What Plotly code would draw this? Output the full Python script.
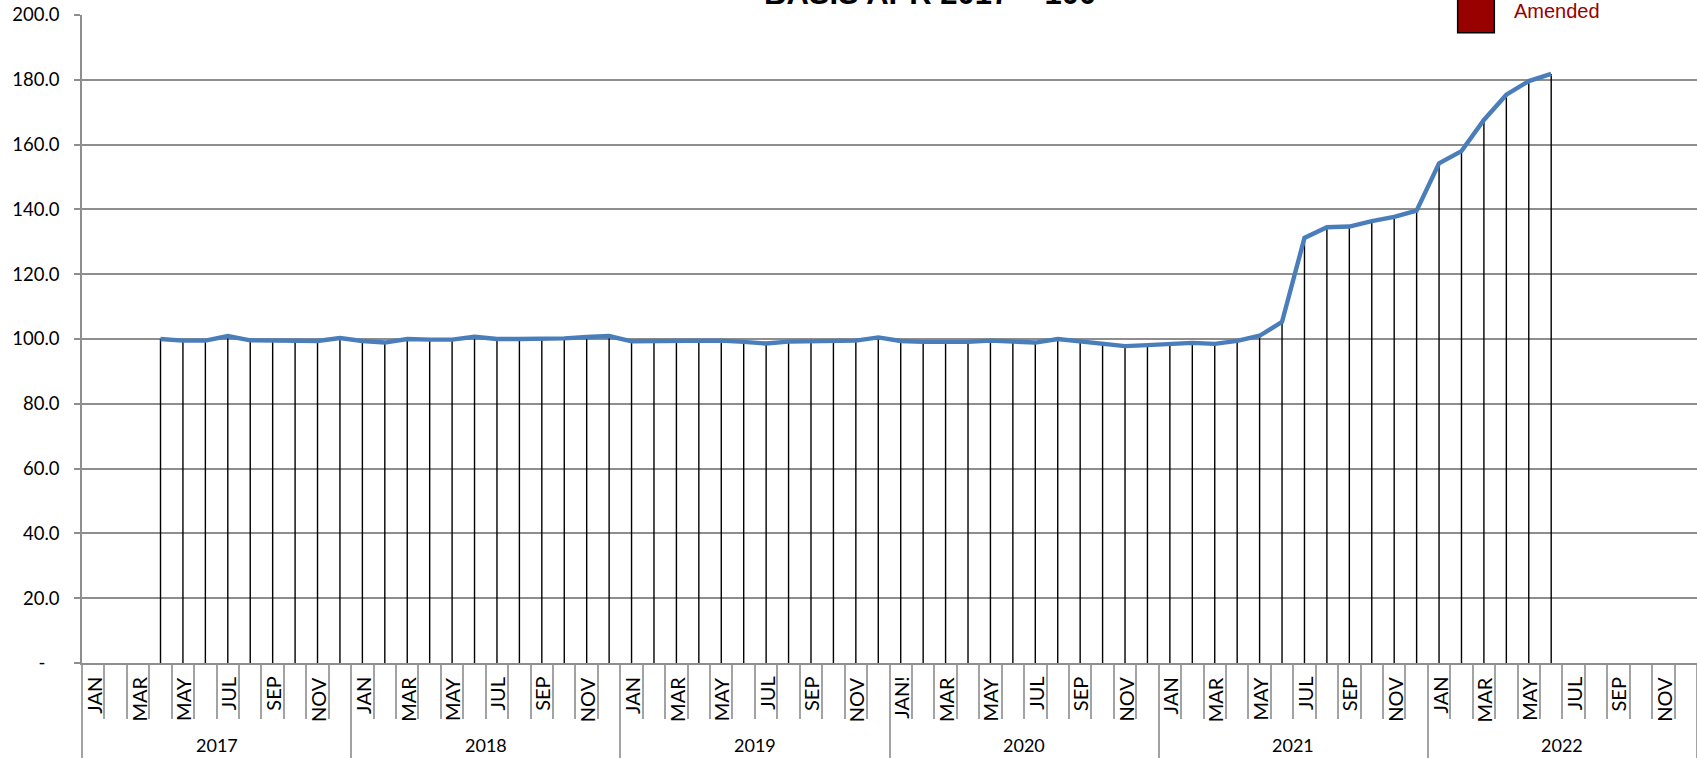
import plotly.graph_objects as go

# ---------------- data ----------------
years = [2017, 2018, 2019, 2020, 2021, 2022]
month_names = ["JAN", "FEB", "MAR", "APR", "MAY", "JUN",
               "JUL", "AUG", "SEP", "OCT", "NOV", "DEC"]
# labels shown under each month (only odd months labelled, as in the source)
month_labels_2017 = ["JAN", "", "MAR", "", "MAY", "", "JUL", "", "SEP", "", "NOV", ""]
month_labels_2018 = ["JAN", "", "MAR", "", "MAY", "", "JUL", "", "SEP", "", "NOV", ""]
month_labels_2019 = ["JAN", "", "MAR", "", "MAY", "", "JUL", "", "SEP", "", "NOV", ""]
month_labels_2020 = ["JAN!", "", "MAR", "", "MAY", "", "JUL", "", "SEP", "", "NOV", ""]
month_labels_2021 = ["JAN", "", "MAR", "", "MAY", "", "JUL", "", "SEP", "", "NOV", ""]
month_labels_2022 = ["JAN", "", "MAR", "", "MAY", "", "JUL", "", "SEP", "", "NOV", ""]

# index values, APR 2017 .. JUN 2022
first_month = "APR"
first_year = 2017
values_2017 = [100.0, 99.5, 99.5, 100.9, 99.6, 99.5, 99.5, 99.4, 100.3]
values_2018 = [99.4, 98.9, 100.0, 99.8, 99.8, 100.7, 100.0, 100.0, 100.0, 100.2, 100.6, 100.9]
values_2019 = [99.3, 99.3, 99.2, 99.3, 99.5, 99.1, 98.6, 99.2, 99.2, 99.2, 99.5, 100.5]
values_2020 = [99.4, 99.1, 99.1, 99.1, 99.5, 99.1, 98.9, 100.0, 99.2, 98.7, 97.8, 98.1]
values_2021 = [98.4, 98.8, 98.5, 99.4, 101.0, 105.3, 131.2, 134.5, 134.7, 136.4, 137.7, 139.6]
values_2022 = [154.2, 158.0, 167.6, 175.4, 179.6, 181.8]

y_ticks = [0, 20, 40, 60, 80, 100, 120, 140, 160, 180, 200]
title_text = "BASIS APR 2017 = 100"
legend_text = "Amended"

# ---------------- derived ----------------
month_labels = (month_labels_2017 + month_labels_2018 + month_labels_2019 +
                month_labels_2020 + month_labels_2021 + month_labels_2022)
values = values_2017 + values_2018 + values_2019 + values_2020 + values_2021 + values_2022
start = (first_year - years[0]) * 12 + month_names.index(first_month)
xs = list(range(start, start + len(values)))
n_months = len(years) * 12

drop_x, drop_y = [], []
for x, v in zip(xs, values):
    drop_x += [x, x, None]
    drop_y += [0, v, None]

GRID = "#8e8e8e"
TICK = "#a3a3a3"
FONT = "Lato"

fig = go.Figure()
fig.add_trace(go.Scatter(x=drop_x, y=drop_y, mode="lines",
                         line=dict(color="#000000", width=1.4),
                         hoverinfo="skip", showlegend=False))
fig.add_trace(go.Scatter(x=xs, y=values, mode="lines",
                         line=dict(color="#4a7ebb", width=4.4),
                         showlegend=False))

ann = []
for i, lab in enumerate(month_labels):
    if lab:
        ann.append(dict(x=i, y=0, xref="x", yref="paper", text=lab, showarrow=False,
                        textangle=-90, xanchor="center", yanchor="top", yshift=-12,
                        font=dict(family=FONT, size=20, color="#000")))
for k, yr in enumerate(years):
    ann.append(dict(x=k * 12 + 5.5, y=0, xref="x", yref="paper", text=str(yr),
                    showarrow=False, xanchor="center", yanchor="middle", yshift=-82,
                    font=dict(family=FONT, size=18, color="#000")))
ann.append(dict(x=0.525, y=1, xref="paper", yref="paper", text="<b>" + title_text + "</b>",
                showarrow=False, xanchor="center", yanchor="bottom", yshift=2,
                font=dict(family="Liberation Sans", size=31, color="#000")))
ann.append(dict(x=0.8855, y=1.0065, xref="paper", yref="paper", text=legend_text,
                showarrow=False, xanchor="left", yanchor="middle",
                font=dict(family="Liberation Sans", size=20, color="#990000")))

shapes = [dict(type="rect", xref="paper", yref="paper", x0=0.8518, x1=0.8745,
               y0=0.9727, y1=1.06, fillcolor="#990000",
               line=dict(color="#000000", width=1.5), layer="above")]

fig.update_layout(
    width=1697, height=758,
    margin=dict(l=82, r=0, t=15, b=95),
    plot_bgcolor="white", paper_bgcolor="white",
    showlegend=False, hovermode=False,
    annotations=ann, shapes=shapes,
    xaxis=dict(range=[-0.5, n_months - 0.5], showgrid=False, zeroline=False,
               showline=True, linecolor=GRID, linewidth=1.5,
               tickmode="array", tickvals=[k * 12 - 0.5 for k in range(len(years) + 1)],
               ticks="outside", ticklen=94, tickcolor=TICK, tickwidth=1.5,
               showticklabels=False,
               minor=dict(ticks="outside", ticklen=54, tick0=-0.5, dtick=1,
                          tickcolor=TICK, tickwidth=1.5, showgrid=False)),
    yaxis=dict(range=[0, 200], showgrid=True, gridcolor=GRID, gridwidth=1.5,
               zeroline=False, showline=True, linecolor=GRID, linewidth=1.5,
               tickmode="array", tickvals=y_ticks,
               ticktext=["-\u00a0\u00a0\u00a0"] + [f"{t:.1f}" for t in y_ticks[1:]],
               ticks="outside", ticklen=6, tickcolor=GRID, tickwidth=1.5,
               ticklabelstandoff=11,
               tickfont=dict(family=FONT, size=18.5, color="#000")),
)

# remove the page's default body margin so the figure sits at the window's corner
fig.write_html("out.html", config={"displayModeBar": False},
               post_script="document.body.style.margin='0px';document.body.style.overflow='hidden';")
